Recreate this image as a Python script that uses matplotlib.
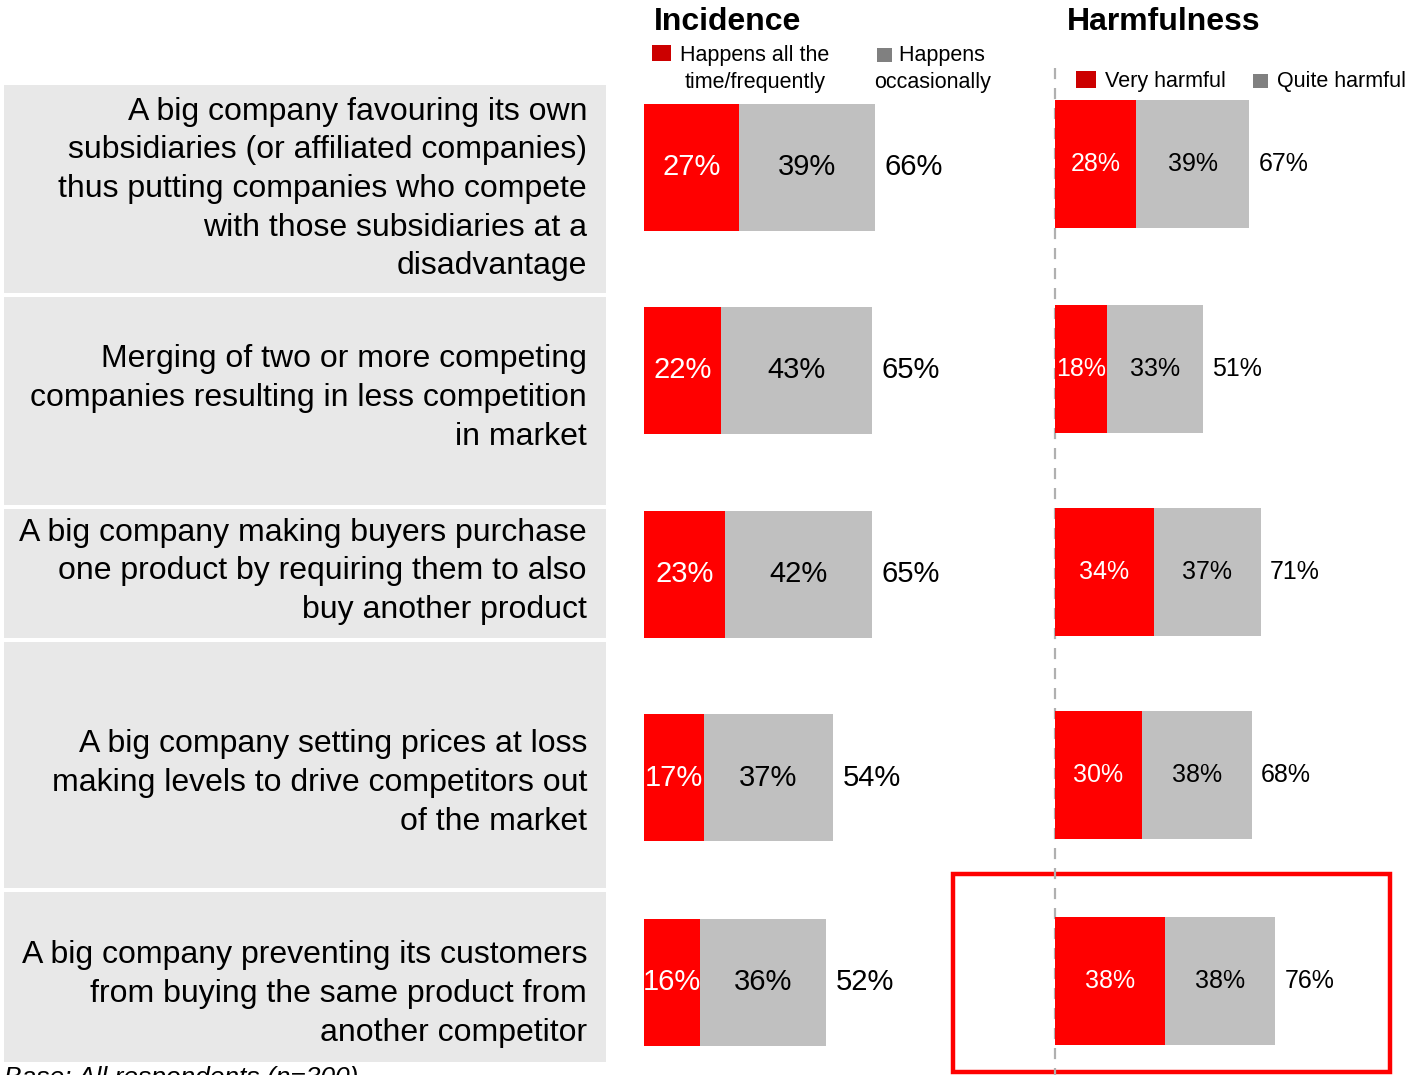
import matplotlib
matplotlib.use('Agg')
import matplotlib.pyplot as plt
from matplotlib.patches import Rectangle

plt.rcParams['font.family'] = ['Liberation Sans', 'DejaVu Sans']

# statements shown on the left
statements = [
    'A big company favouring its own\nsubsidiaries (or affiliated companies)\nthus putting companies who compete\nwith those subsidiaries at a\ndisadvantage',
    'Merging of two or more competing\ncompanies resulting in less competition\nin market',
    'A big company making buyers purchase\none product by requiring them to also\nbuy another product',
    'A big company setting prices at loss\nmaking levels to drive competitors out\nof the market',
    'A big company preventing its customers\nfrom buying the same product from\nanother competitor',
]

# incidence: frequently / occasionally / total
inc_freq = [27, 22, 23, 17, 16]
inc_occ = [39, 43, 42, 37, 36]
inc_total = [66, 65, 65, 54, 52]

# harmfulness: very / quite / total
harm_very = [28, 18, 34, 30, 38]
harm_quite = [39, 33, 37, 38, 38]
harm_total = [67, 51, 71, 68, 76]

W, H = 1409, 1075
fig = plt.figure(figsize=(W / 100, H / 100), dpi=100)

# background axis in pixel units
bg = fig.add_axes([0, 0, 1, 1])
bg.set_xlim(0, W)
bg.set_ylim(H, 0)
bg.axis('off')

# grey statement boxes (top, bottom) in pixels, plus a vertical nudge for the text
boxes = [(85, 293), (297, 505), (509, 638), (642, 888), (892, 1062)]
text_shift = [0, -3, -2, 18, 17]
for (top, bot), dy, txt in zip(boxes, text_shift, statements):
    bg.add_patch(Rectangle((4, top), 602, bot - top, color='#e8e8e8', lw=0))
    bg.text(587, (top + bot) / 2 + dy, txt, ha='right', va='center',
            fontsize=23, linespacing=1.37, color='black')

bg.text(4, 1066, 'Base: All respondents (n=300)', ha='left', va='top',
        fontsize=19, style='italic', color='black')

# headings and legends
bg.text(654, 22, 'Incidence', ha='left', va='center', fontsize=23, fontweight='bold')
bg.text(1067, 22, 'Harmfulness', ha='left', va='center', fontsize=23, fontweight='bold')

bg.add_patch(Rectangle((652, 45), 19, 16, color='#cc0000', lw=0))
bg.text(755, 69, 'Happens all the\ntime/frequently', ha='center', va='center',
        fontsize=15.5, linespacing=1.33)
bg.add_patch(Rectangle((877, 48), 15, 14, color='#808080', lw=0))
bg.text(933, 69, '   Happens\noccasionally', ha='center', va='center',
        fontsize=15.5, linespacing=1.33)

bg.add_patch(Rectangle((1076, 71), 20, 17, color='#cc0000', lw=0))
bg.text(1105, 81, 'Very harmful', ha='left', va='center', fontsize=15.5)
bg.add_patch(Rectangle((1253, 74), 15, 14, color='#808080', lw=0))
bg.text(1277, 81, 'Quite harmful', ha='left', va='center', fontsize=15.5)

# highlight box around last harmfulness row
bg.add_patch(Rectangle((953, 874), 437, 198, fill=False, edgecolor='#ff0000', lw=3.2))


def stacked(left_px, px_per_pct, centers, heights, a, b, tot, fs, gap):
    ax = fig.add_axes([left_px / W, 0, 100 * px_per_pct / W, 1])
    ax.set_xlim(0, 100)
    ax.set_ylim(H, 0)
    ax.axis('off')
    ax.barh(centers, a, height=heights, color='#ff0000', lw=0)
    ax.barh(centers, b, left=a, height=heights, color='#c0c0c0', lw=0)
    for y, va_, vb, vt in zip(centers, a, b, tot):
        ax.text(va_ / 2, y, '{}%'.format(va_), ha='center', va='center',
                color='white', fontsize=fs)
        ax.text(va_ + vb / 2, y, '{}%'.format(vb), ha='center', va='center',
                color='black', fontsize=fs)
        ax.annotate('{}%'.format(vt), (va_ + vb, y), xytext=(gap, 0),
                    textcoords='offset points', ha='left', va='center',
                    color='black', fontsize=fs)
    return ax


inc_centers = [167, 370.5, 574, 777.5, 982]
harm_centers = [164, 368.5, 572, 775, 980.5]

stacked(644, 3.5, inc_centers, 127, inc_freq, inc_occ, inc_total, 21, 7)

# dashed baseline for harmfulness
bg.plot([1055, 1055], [68, 1075], color='#b0b0b0', lw=1.6, ls=(0, (5, 4)))

stacked(1055, 2.9, harm_centers, 128, harm_very, harm_quite, harm_total, 18, 6.5)

fig.savefig('out.png', dpi=100)
